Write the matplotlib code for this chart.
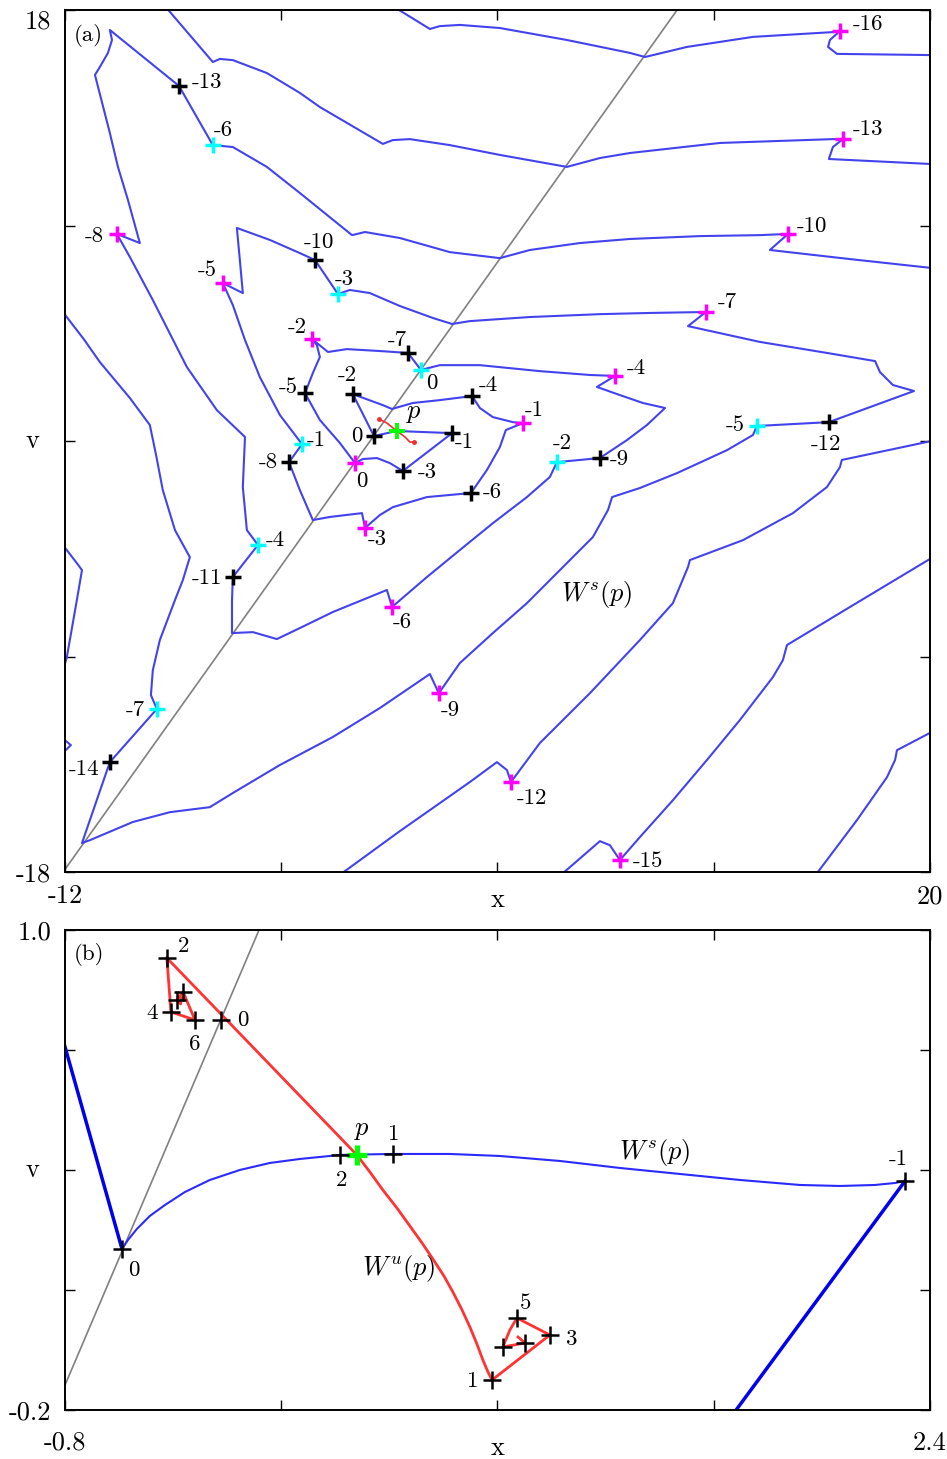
import numpy as np
import matplotlib.pyplot as plt

plt.rcParams['font.family'] = ['cmr10', 'DejaVu Serif']
plt.rcParams['mathtext.fontset'] = 'cm'
plt.rcParams['axes.unicode_minus'] = False
plt.rcParams['axes.formatter.use_mathtext'] = True

# ---------------- panel (a): x in [-12, 20], v in [-18, 18] ----------------
# pieces of the stable manifold W^s(p), (x, v) pairs
ws_a_left = np.array([
    (-12.05, 5.35), (-11.30, 4.25), (-10.71, 3.30), (-9.60, 1.80), (-8.86, 0.67), (-8.63, -0.58),
    (-8.38, -2.05), (-7.93, -3.72), (-7.38, -4.85), (-7.64, -5.81), (-7.93, -6.64),
    (-8.49, -8.31), (-8.75, -9.57), (-8.82, -10.61), (-8.60, -11.19), (-10.34, -13.41),
    (-11.37, -16.79), (-11.08, -16.67), (-9.49, -15.91), (-8.12, -15.50), (-6.64, -15.29),
    (-5.79, -14.70), (-4.05, -13.53), (-2.09, -12.36), (-0.35, -11.15), (1.50, -9.73),
    (1.83, -10.53), (2.61, -9.27), (3.83, -8.02), (5.09, -6.77), (6.31, -5.39),
    (7.53, -4.01), (8.09, -2.88), (8.24, -2.34), (9.27, -1.96), (10.64, -1.34),
    (12.49, -0.38), (13.45, 0.25), (13.60, 0.63), (16.26, 0.79), (19.41, 2.09),
    (18.63, 2.34), (18.15, 2.88), (17.97, 3.34), (16.19, 3.68), (13.71, 4.14),
    (11.05, 4.80), (11.71, 5.39), (9.64, 5.35), (7.79, 5.30), (5.20, 5.18),
    (2.98, 5.01), (2.32, 4.89), (1.61, 5.14), (0.39, 5.64), (-0.72, 6.18),
    (-1.46, 6.31), (-1.90, 6.14), (-2.75, 7.56), (-3.31, 7.85), (-4.42, 8.40),
    (-5.64, 8.90), (-5.53, 7.56), (-5.42, 6.18), (-6.16, 6.60), (-5.79, 5.68),
    (-5.34, 4.22), (-4.79, 2.67), (-4.05, 1.09), (-3.23, -0.13), (-3.71, -0.88),
    (-3.31, -2.05), (-2.83, -3.30), (-2.20, -3.17), (-1.01, -3.01), (-0.90, -3.63),
    (-0.35, -3.09), (0.13, -2.76), (1.39, -2.34), (3.02, -2.17), (3.61, -1.21),
    (4.09, -0.25), (4.31, 0.46), (4.94, 0.75), (4.57, 0.79), (3.83, 1.00),
    (3.35, 1.38), (3.06, 1.88), (1.87, 1.71), (0.87, 1.59), (0.10, 1.34),
    (-0.24, 1.50), (-1.35, 1.96), (-0.57, 0.21), (0.28, 0.42)])

ws_a_right = np.array([
    (0.28, 0.42), (2.32, 0.33), (0.50, -1.25), (0.02, -0.92), (-0.46, -0.71),
    (-0.98, -0.75), (-1.27, -0.92), (-1.83, -0.08), (-2.57, 0.88), (-3.12, 2.00),
    (-2.83, 2.84), (-2.57, 3.51), (-2.68, 4.01), (-2.86, 4.26), (-2.27, 3.72),
    (-1.57, 3.84), (-0.35, 3.76), (0.69, 3.68), (1.17, 2.97), (1.87, 3.17),
    (3.35, 3.17), (5.57, 2.92), (7.42, 2.76), (8.35, 2.72), (7.68, 2.26),
    (8.53, 1.92), (9.38, 1.59), (10.20, 1.38), (9.53, 0.67), (8.79, 0.04),
    (7.79, -0.71), (6.20, -0.88), (5.94, -1.50), (5.09, -2.34), (3.83, -3.43),
    (2.61, -4.55), (1.39, -5.68), (0.10, -6.93), (-0.09, -6.22), (-1.09, -6.68),
    (-2.09, -7.14), (-3.31, -7.81), (-4.16, -8.27), (-5.05, -7.98), (-5.82, -8.02),
    (-5.82, -6.64), (-5.79, -5.68), (-4.86, -4.34), (-5.27, -3.72), (-5.42, -1.92),
    (-5.34, 0.17), (-6.38, 1.29), (-7.49, 3.09), (-8.75, 5.89), (-9.60, 7.69),
    (-10.08, 8.65), (-9.23, 8.27), (-9.67, 10.07), (-10.04, 11.45), (-10.34, 12.87),
    (-10.89, 15.29), (-10.71, 15.62), (-10.41, 16.21), (-10.26, 16.75), (-10.34, 17.17),
    (-7.78, 14.83), (-6.53, 12.36),
    (-5.79, 12.28), (-4.53, 11.45), (-3.31, 10.36), (-1.38, 8.60), (-0.90, 8.73),
    (0.39, 8.48), (2.24, 7.89), (4.09, 7.64), (5.20, 7.98), (7.05, 8.27),
    (8.90, 8.44), (11.49, 8.56), (13.71, 8.60), (14.75, 8.65), (14.08, 7.98),
    (17.04, 7.60), (20.05, 7.23)])

ws_a_top1 = np.array([
    (-8.25, 18.1), (-6.53, 15.83), (-6.27, 15.96), (-5.79, 15.91), (-4.53, 15.37),
    (-3.31, 14.54), (-2.57, 13.95), (-0.24, 12.41), (0.13, 12.57), (0.76, 12.61),
    (2.24, 12.36), (4.09, 11.95), (6.57, 11.45), (7.79, 11.82), (8.90, 12.03),
    (12.23, 12.45), (16.41, 12.61), (16.78, 12.61), (16.41, 12.28), (16.26, 11.78),
    (20.05, 11.57)])

ws_a_top2 = np.array([
    (0.22, 18.1), (1.50, 17.21), (1.87, 17.33), (2.61, 17.38), (4.09, 17.25),
    (6.57, 16.75), (8.90, 16.21), (9.46, 16.04), (11.01, 16.46), (13.45, 16.88),
    (16.41, 17.08), (16.67, 17.13), (16.30, 16.75), (16.23, 16.46), (16.56, 16.17),
    (20.05, 16.12)])

ws_a_bot1 = np.array([
    (-1.75, -18.05), (0.39, -16.29), (1.87, -15.12), (2.98, -14.24), (3.98, -13.41),
    (4.35, -13.74), (4.50, -14.24), (5.57, -12.61), (7.42, -10.53), (9.27, -8.31),
    (10.49, -6.77), (11.05, -5.26), (11.12, -4.97), (13.08, -4.14), (14.93, -3.01),
    (16.19, -1.92), (16.67, -1.09), (16.74, -0.79), (20.05, 0.0)])

ws_a_bot2 = np.array([
    (6.42, -18.05), (7.79, -16.71), (8.16, -16.88), (8.53, -17.50), (9.27, -16.54),
    (10.49, -15.00), (11.75, -13.32), (12.97, -11.65), (14.19, -9.86), (14.56, -9.15),
    (14.71, -8.52), (17.04, -6.93), (20.05, -4.89)])

ws_a_bot3 = np.array([
    (15.82, -18.05), (17.30, -15.83), (18.41, -14.04), (18.71, -13.32), (18.78, -12.91),
    (20.05, -12.16)])

ws_a_edge1 = np.array([
    (-12.05, -4.38), (-11.56, -5.10), (-11.37, -5.39), (-11.56, -6.64), (-11.93, -9.02),
    (-12.05, -9.50)])

ws_a_edge2 = np.array([(-12.05, -12.45), (-11.78, -12.70), (-12.05, -12.99)])

# local piece of the unstable manifold W^u(p)
wu_a = np.array([(-0.38, 0.92), (-0.09, 0.75), (0.28, 0.42), (0.58, 0.17),
                 (0.76, -0.04), (0.91, -0.04)])

# symmetry line v = k*x + c
sym_k, sym_c = 1.585, 1.13

# iterates: positions, labels
black_a_x = [-7.78, -2.75, 0.69, 3.06, -1.35, -3.12, -0.57, 2.32, 0.50, 3.02,
             -3.71, 7.79, -5.79, 16.26, -10.34]
black_a_v = [14.83, 7.56, 3.68, 1.88, 1.96, 2.00, 0.21, 0.33, -1.25, -2.17,
             -0.88, -0.71, -5.68, 0.79, -13.41]
black_a_lab = ['-13', '-10', '-7', '-4', '-2', '-5', '0', '-1', '-3', '-6',
               '-8', '-9', '-11', '-12', '-14']
black_a_off = [(28, 4), (4, 18), (-11, 13), (16, 11), (-6, 19), (-17, 6), (-17, 0),
               (12, -9), (24, -1), (21, 1), (-21, 0), (19, -1), (-26, -1), (-3, -22),
               (-26, -7)]

cyan_a_x = [-6.53, -1.90, 1.17, -3.23, 6.20, -4.86, 13.60, -8.60]
cyan_a_v = [12.36, 6.14, 2.97, -0.13, -0.88, -4.34, 0.63, -11.19]
cyan_a_lab = ['-6', '-3', '0', '-1', '-2', '-4', '-5', '-7']
cyan_a_off = [(10, 15), (6, 15), (11, -13), (14, 4), (5, 19), (17, 5), (-22, 1), (-22, -1)]

mag_a_x = [16.67, 16.78, 14.75, -10.08, -6.16, 11.71, -2.86, 8.35, 4.94, -1.27,
           -0.90, 0.10, 1.83, 4.50, 8.53]
mag_a_v = [17.13, 12.61, 8.65, 8.65, 6.60, 5.39, 4.26, 2.72, 0.75, -0.92,
           -3.63, -6.93, -10.53, -14.24, -17.50]
mag_a_lab = ['-16', '-13', '-10', '-8', '-5', '-7', '-2', '-4', '-1', '0',
             '-3', '-6', '-9', '-12', '-15']
mag_a_off = [(28, 7), (25, 10), (24, 8), (-23, -2), (-16, 13), (21, 10), (-15, 12),
             (21, 8), (11, 13), (7, -18), (12, -11), (10, -15), (12, -17), (21, -16),
             (28, -1)]

p_x, p_v = 0.28, 0.4375

# ---------------- panel (b): x in [-0.8, 2.4], v in [-0.2, 1.0] ----------------
ws_b = np.array([
    (-0.589, 0.2025), (-0.567, 0.225), (-0.534, 0.2525), (-0.486, 0.285), (-0.430, 0.3125),
    (-0.356, 0.345), (-0.264, 0.375), (-0.153, 0.400), (-0.042, 0.4175), (0.069, 0.4275),
    (0.217, 0.4375), (0.280, 0.4385), (0.413, 0.440), (0.624, 0.440), (0.809, 0.435),
    (1.031, 0.4225), (1.253, 0.405), (1.475, 0.390), (1.697, 0.375), (1.919, 0.3625),
    (2.067, 0.360), (2.197, 0.3625), (2.271, 0.3675), (2.308, 0.3725)])
ws_b_left = np.array([(-0.805, 0.72), (-0.589, 0.2025)])
ws_b_right = np.array([(2.308, 0.3725), (1.672, -0.21)])

wu_b = np.array([
    (-0.423, 0.930), (0.280, 0.4375), (0.328, 0.395), (0.376, 0.350), (0.428, 0.305),
    (0.476, 0.260), (0.521, 0.2175), (0.561, 0.1775), (0.602, 0.135), (0.635, 0.095),
    (0.669, 0.050), (0.698, 0.0075), (0.724, -0.035), (0.746, -0.075), (0.765, -0.105),
    (0.780, -0.125), (0.994, -0.0125), (0.872, 0.030), (0.846, 0.000), (0.820, -0.0425),
    (0.902, -0.0325), (0.876, -0.0175)])
wu_b_upper = np.array([
    (-0.423, 0.930), (-0.408, 0.795), (-0.319, 0.775), (-0.363, 0.845),
    (-0.386, 0.825), (-0.372, 0.815), (-0.370, 0.830)])

black_b_x = [-0.423, -0.363, -0.386, -0.408, -0.319, -0.223, 0.217, 0.413, -0.589,
             2.308, 0.780, 0.994, 0.872, 0.820, 0.902]
black_b_v = [0.930, 0.845, 0.825, 0.795, 0.775, 0.775, 0.4375, 0.440, 0.2025,
             0.3725, -0.125, -0.0125, 0.030, -0.0425, -0.0325]
black_b_lab = ['2', '', '', '4', '6', '0', '2', '1', '0', '-1', '1', '3', '5', '', '']
black_b_off = [(17, 12), (0, 0), (0, 0), (-19, -1), (0, -24), (22, 0), (2, -25),
               (1, 20), (12, -21), (-7, 22), (-19, -1), (22, -4), (9, 15), (0, 0), (0, 0)]

BLUE = '#4343ee'
FS_TICK = 19
FS_LAB = 16.5
FS_W = 19


def style_axes(ax, xticks, xlabs, yticks, ylabs, xpad, ylab_y):
    ax.set_xticks(xticks)
    ax.set_xticklabels(xlabs)
    ax.set_yticks(yticks)
    ax.set_yticklabels(ylabs)
    ax.tick_params(direction='in', length=7, width=1, top=True, right=True,
                   labelsize=FS_TICK)
    ax.tick_params(axis='x', pad=xpad)
    ax.tick_params(axis='y', pad=10)
    for s in ax.spines.values():
        s.set_linewidth(1.4)
    ax.set_xlabel('x', fontsize=FS_TICK)
    ax.xaxis.set_label_coords(0.5, ylab_y)
    ax.xaxis.label.set_va('center')
    ax.set_ylabel('v', fontsize=FS_TICK, rotation=0)
    ax.yaxis.set_label_coords(-0.037, 0.5)
    ax.yaxis.label.set_va('center')
    ax.yaxis.label.set_ha('center')


def crosses(ax, xs, vs, labs, offs, color, ms, mew, z=5):
    ax.plot(xs, vs, linestyle='none', marker='+', color=color, ms=ms, mew=mew, zorder=z)
    for x, v, t, o in zip(xs, vs, labs, offs):
        if t:
            ax.annotate(t, xy=(x, v), xytext=o, textcoords='offset pixels',
                        ha='center', va='center', fontsize=FS_LAB, zorder=6)


fig = plt.figure(figsize=(9.47, 14.59), dpi=100)

# ---- (a) ----
ax = fig.add_axes([0.0686, 0.4023, 0.9134, 0.5908])
ax.set_xlim(-12, 20)
ax.set_ylim(-18, 18)
xs = np.array([-12, 20])
ax.plot(xs, sym_k * xs + sym_c, color='#808080', lw=1.2, zorder=1)
for c in [ws_a_left, ws_a_right, ws_a_top1, ws_a_top2, ws_a_bot1, ws_a_bot2,
          ws_a_bot3, ws_a_edge1, ws_a_edge2]:
    ax.plot(c[:, 0], c[:, 1], color=BLUE, lw=1.5, zorder=2, solid_joinstyle='round')
ax.plot(wu_a[:, 0], wu_a[:, 1], color='#ee3030', lw=1.2, zorder=3)
ax.plot(wu_a[[0, -1], 0], wu_a[[0, -1], 1], 'o', color='#ee3030', ms=2.5, zorder=3)
crosses(ax, black_a_x, black_a_v, black_a_lab, black_a_off, 'black', 12, 2.5)
crosses(ax, cyan_a_x, cyan_a_v, cyan_a_lab, cyan_a_off, '#00ffff', 12, 2.5)
crosses(ax, mag_a_x, mag_a_v, mag_a_lab, mag_a_off, '#ff00ff', 12, 2.5)
ax.plot([p_x], [p_v], marker='+', color='#00ff00', ms=12, mew=2.8, zorder=5)
ax.annotate('$p$', xy=(p_x, p_v), xytext=(17, 17), textcoords='offset pixels',
            ha='center', va='center', fontsize=FS_W)
ax.text(7.68, -6.39, r'$W^s(p)$', fontsize=FS_W, ha='center', va='center')
ax.text(0.027, 0.971, '(a)', transform=ax.transAxes, fontsize=FS_LAB,
        ha='center', va='center')
style_axes(ax, [-12, -4, 4, 12, 20], ['-12', '', '', '', '20'],
           [-18, -9, 0, 9, 18], ['-18', '', '', '', '18'], 9, -0.033)
ax.get_yticklabels()[-1].set_va('top')

# ---- (b) ----
bx = fig.add_axes([0.0686, 0.0336, 0.9134, 0.329])
bx.set_xlim(-0.8, 2.4)
bx.set_ylim(-0.2, 1.0)
xs = np.array([-0.8, 2.4])
bx.plot(xs, sym_k * xs + sym_c, color='#808080', lw=1.2, zorder=1)
bx.plot(ws_b[:, 0], ws_b[:, 1], color='#2a2aff', lw=1.5, zorder=2)
bx.plot(ws_b_left[:, 0], ws_b_left[:, 1], color='#0000ee', lw=2.5, zorder=2)
bx.plot(ws_b_right[:, 0], ws_b_right[:, 1], color='#0000ee', lw=2.5, zorder=2)
bx.plot(wu_b[:, 0], wu_b[:, 1], color='#ff3333', lw=2.0, zorder=3, solid_joinstyle='round')
bx.plot(wu_b_upper[:, 0], wu_b_upper[:, 1], color='#ff3333', lw=2.0, zorder=3)
crosses(bx, black_b_x, black_b_v, black_b_lab, black_b_off, 'black', 13, 1.8)
bx.plot([p_x], [p_v], marker='+', color='#00ff00', ms=14, mew=3.8, zorder=4)
bx.annotate('$p$', xy=(p_x, p_v), xytext=(5, 25), textcoords='offset pixels',
            ha='center', va='center', fontsize=FS_W)
bx.text(1.383, 0.4425, r'$W^s(p)$', fontsize=FS_W, ha='center', va='center')
bx.text(0.436, 0.1525, r'$W^u(p)$', fontsize=FS_W, ha='center', va='center')
bx.text(0.028, 0.948, '(b)', transform=bx.transAxes, fontsize=FS_LAB,
        ha='center', va='center')
style_axes(bx, [-0.8, 0, 0.8, 1.6, 2.4], ['-0.8', '', '', '', '2.4'],
           [-0.2, 0.1, 0.4, 0.7, 1.0], ['-0.2', '', '', '', '1.0'], 15, -0.08)

fig.savefig('out.png', dpi=100)
